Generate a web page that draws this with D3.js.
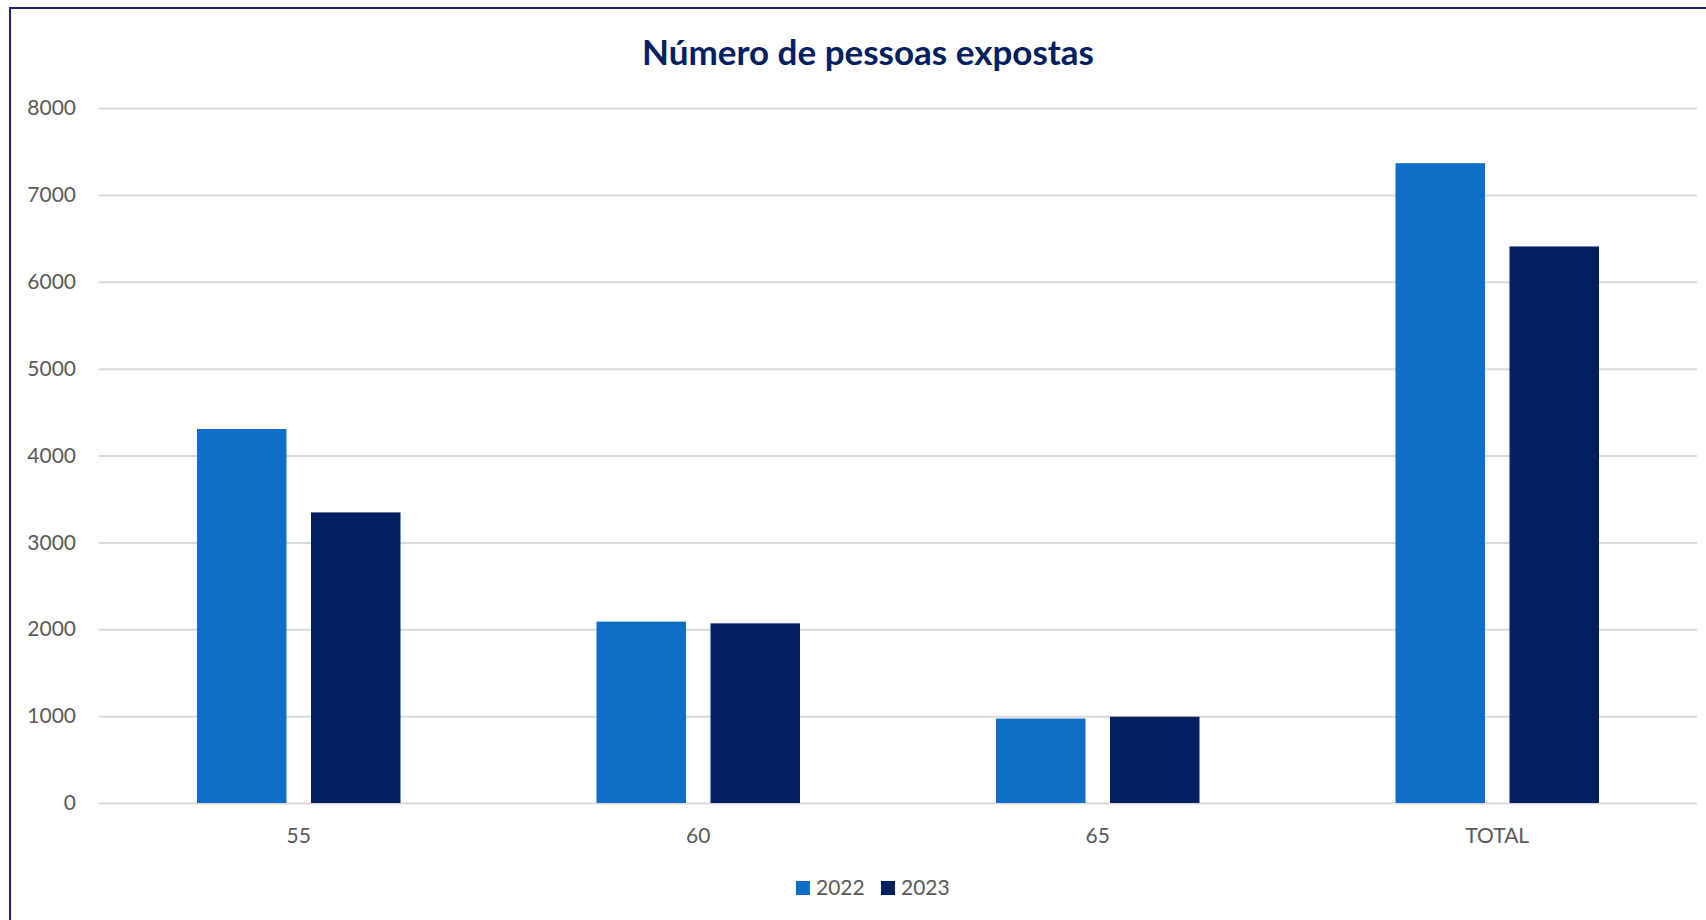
<!DOCTYPE html>
<html>
<head>
<meta charset="utf-8">
<script src="https://cdn.jsdelivr.net/npm/d3@7"></script>
<style>
  body { margin: 0; background: #fff; }
  svg { display: block; }
  .tick text { font-family: Lato, "Open Sans", sans-serif; fill: #595959; }
</style>
</head>
<body>
<svg id="chart" width="1706" height="920"></svg>
<script>
// data
var categories = ["55", "60", "65", "TOTAL"]
var seriesNames = ["2022", "2023"]
var values2022 = [4305, 2088, 972, 7365]
var values2023 = [3345, 2068, 993, 6406]
var yTicks = [0, 1000, 2000, 3000, 4000, 5000, 6000, 7000, 8000]
var colors = { "2022": "#0F6FC6", "2023": "#002060" }

var rows = categories.map((c, i) => ({ cat: c, "2022": values2022[i], "2023": values2023[i] }))

var svg = d3.select("#chart")
var W = +svg.attr("width"), H = +svg.attr("height")
var margin = { top: 108, right: 9, bottom: 117, left: 99 }

// outer border of the chart area (runs off the right/bottom edge)
svg.append("rect")
  .attr("x", 10).attr("y", 8)
  .attr("width", 1800).attr("height", 1000)
  .attr("fill", "white")
  .attr("stroke", "#1c1c8a").attr("stroke-width", 2)

var x0 = d3.scaleBand()
  .domain(categories)
  .range([margin.left, W - margin.right])
  .paddingInner(0.4906).paddingOuter(0.2453)

var x1 = d3.scaleBand()
  .domain(seriesNames)
  .range([0, x0.bandwidth()])
  .paddingInner(0.215)

var y = d3.scaleLinear()
  .domain([0, 8000])
  .range([H - margin.bottom, margin.top])

// gridlines + y labels
var yAxis = svg.append("g")
  .attr("transform", "translate(" + margin.left + ",0)")
  .call(d3.axisLeft(y).tickValues(yTicks).tickFormat(d3.format("d"))
    .tickSize(-(W - margin.left - margin.right)).tickPadding(23))
yAxis.select(".domain").remove()
yAxis.selectAll(".tick line").attr("stroke", "#d9d9d9").attr("stroke-width", 2)
yAxis.selectAll(".tick text").style("font-size", "21px")

// bars
var groups = svg.append("g").selectAll("g")
  .data(rows)
  .join("g")
  .attr("transform", d => "translate(" + x0(d.cat) + ",0)")

groups.selectAll("rect")
  .data(d => seriesNames.map(s => ({ key: s, value: d[s] })))
  .join("rect")
  .attr("x", d => x1(d.key))
  .attr("width", x1.bandwidth())
  .attr("y", d => y(d.value))
  .attr("height", d => y(0) - y(d.value))
  .attr("fill", d => colors[d.key])

// x labels
var xAxis = svg.append("g")
  .attr("transform", "translate(0," + (H - margin.bottom) + ")")
  .call(d3.axisBottom(x0).tickSize(0).tickPadding(25))
xAxis.select(".domain").remove()
xAxis.selectAll(".tick text").style("font-size", "21px")

// title
svg.append("text")
  .attr("x", 868).attr("y", 65)
  .attr("text-anchor", "middle")
  .style("font-family", "Lato, 'Open Sans', sans-serif")
  .style("font-weight", "bold")
  .style("font-size", "35px")
  .style("fill", "#002060")
  .text("Número de pessoas expostas")

// legend
var legend = svg.append("g").attr("transform", "translate(796,881)")
var li = legend.selectAll("g")
  .data(seriesNames)
  .join("g")
  .attr("transform", (d, i) => "translate(" + (i * 85) + ",0)")
li.append("rect").attr("width", 14).attr("height", 14).attr("fill", d => colors[d])
li.append("text")
  .attr("x", 20).attr("y", 14)
  .style("font-family", "Lato, 'Open Sans', sans-serif")
  .style("font-size", "21px")
  .style("fill", "#595959")
  .text(d => d)
</script>
</body>
</html>
